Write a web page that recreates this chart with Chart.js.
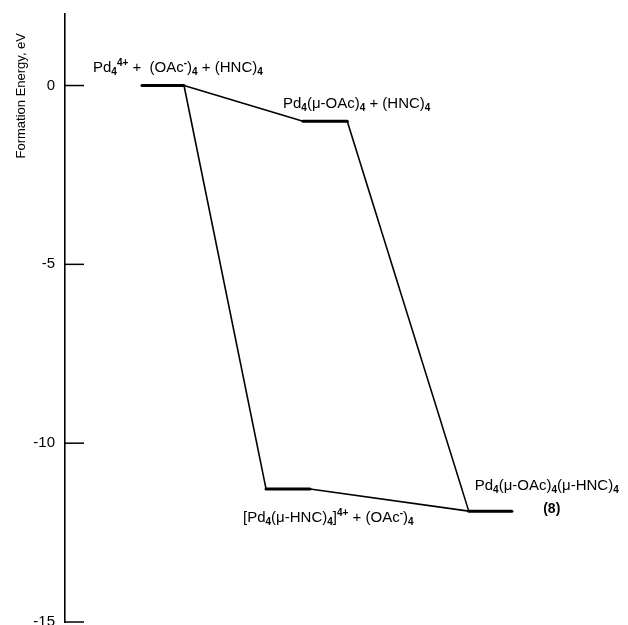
<!DOCTYPE html>
<html>
<head>
<meta charset="utf-8">
<script src="https://cdn.jsdelivr.net/npm/chart.js@4.4.1/dist/chart.umd.min.js"></script>
<style>
  html, body { margin: 0; padding: 0; background: #fff; }
  #wrap { width: 628px; height: 625px; }
</style>
</head>
<body>
<div id="wrap"><canvas id="energyChart"></canvas></div>
<script>
// energy levels (eV) along an arbitrary reaction coordinate 0..100
const levelLabels = [
    "Pd_{4}^{4+} +  (OAc^{-})_{4} + (HNC)_{4}",
    "Pd_{4}(\u03bc-OAc)_{4} + (HNC)_{4}",
    "[Pd_{4}(\u03bc-HNC)_{4}]^{4+} + (OAc^{-})_{4}",
    "Pd_{4}(\u03bc-OAc)_{4}(\u03bc-HNC)_{4}"
];
const levelEnergy = [0, -1.0, -11.28, -11.9];
const levelStart = [13.75, 42.5, 35.9, 72.1];
const levelEnd = [21.25, 50.4, 43.75, 79.8];
const links = [[0, 1], [1, 3], [0, 2], [2, 3]];
const yTicks = [0, -5, -10, -15];
const yTitle = "Formation Energy, eV";

const FONT = "'Liberation Sans', Arial, sans-serif";

// label offsets from level start (px)
const labelOffsets = [
    { dx: -49, dy: -14 },
    { dx: -20, dy: -13 },
    { dx: -23, dy: 33 },
    { dx: 6, dy: -21 },
];

function parseRich(str) {
    const parts = [];
    const re = /([_^])\{([^}]*)\}|([^_^]+)/g;
    let m;
    while ((m = re.exec(str)) !== null) {
        if (m[3]) parts.push({ text: m[3], kind: "n" });
        else parts.push({ text: m[2], kind: m[1] === "_" ? "sub" : "sup" });
    }
    return parts;
}

function drawRich(ctx, str, x, y) {
    let cx = x;
    parseRich(str).forEach(p => {
        let dy = 0;
        if (p.kind === "n") {
            ctx.font = "15px " + FONT;
        } else {
            ctx.font = "bold 10px " + FONT;
            dy = p.kind === "sub" ? 3 : -6;
        }
        ctx.fillText(p.text, cx, y + dy);
        cx += ctx.measureText(p.text).width;
    });
}

const levelPlugin = {
    id: "levelDecor",
    afterDraw(chart) {
        const ctx = chart.ctx;
        const xs = chart.scales.x;
        const ys = chart.scales.y;
        ctx.save();
        // inward tick marks
        ctx.strokeStyle = "#000";
        ctx.lineWidth = 1.5;
        yTicks.forEach(v => {
            const py = ys.getPixelForValue(v);
            ctx.beginPath();
            ctx.moveTo(chart.chartArea.left, py);
            ctx.lineTo(chart.chartArea.left + 19, py);
            ctx.stroke();
        });
        // axis title, near the top of the axis
        ctx.save();
        ctx.translate(21, 33);
        ctx.rotate(-Math.PI / 2);
        ctx.font = "13px " + FONT;
        ctx.fillStyle = "#000";
        ctx.textAlign = "right";
        ctx.textBaseline = "middle";
        ctx.fillText(yTitle, 0, 0);
        ctx.restore();
        // level labels
        ctx.fillStyle = "#000";
        ctx.textBaseline = "alphabetic";
        ctx.textAlign = "left";
        levelLabels.forEach((lab, i) => {
            const px = xs.getPixelForValue(levelStart[i]) + labelOffsets[i].dx;
            const py = ys.getPixelForValue(levelEnergy[i]) + labelOffsets[i].dy;
            drawRich(ctx, lab, px, py);
        });
        // compound number under the last label
        ctx.font = "bold 14px " + FONT;
        ctx.textAlign = "center";
        ctx.fillText("(8)", xs.getPixelForValue(levelStart[3]) + 83, ys.getPixelForValue(levelEnergy[3]) + 2);
        ctx.restore();
    }
};

const datasets = [];
levelEnergy.forEach((e, i) => {
    datasets.push({
        data: [{ x: levelStart[i], y: e }, { x: levelEnd[i], y: e }],
        borderColor: "#000",
        borderWidth: 3,
        borderCapStyle: "round",
        pointRadius: 0,
        showLine: true,
    });
});
links.forEach(([a, b]) => {
    datasets.push({
        data: [{ x: levelEnd[a], y: levelEnergy[a] }, { x: levelStart[b], y: levelEnergy[b] }],
        borderColor: "#000",
        borderWidth: 1.6,
        pointRadius: 0,
        showLine: true,
    });
});

new Chart(document.getElementById("energyChart"), {
    type: "scatter",
    data: { datasets },
    options: {
        responsive: true,
        maintainAspectRatio: false,
        animation: false,
        layout: { padding: { top: 14, bottom: 3, right: 3, left: 0 } },
        plugins: {
            legend: { display: false },
            tooltip: { enabled: false },
        },
        scales: {
            x: {
                type: "linear",
                min: 0,
                max: 100,
                display: false,
            },
            y: {
                type: "linear",
                min: -15,
                max: 2,
                afterBuildTicks: scale => {
                    scale.ticks = yTicks.map(v => ({ value: v }));
                },
                afterFit: scale => {
                    scale.width = 65;
                    scale.paddingTop = 0;
                    scale.paddingBottom = 0;
                },
                border: { display: true, color: "#000", width: 1.6 },
                grid: { display: false, drawTicks: false },
                ticks: {
                    color: "#000",
                    padding: 10,
                    font: { family: FONT, size: 15 },
                },
                title: { display: false },
            },
        },
    },
    plugins: [levelPlugin],
});
</script>
</body>
</html>
